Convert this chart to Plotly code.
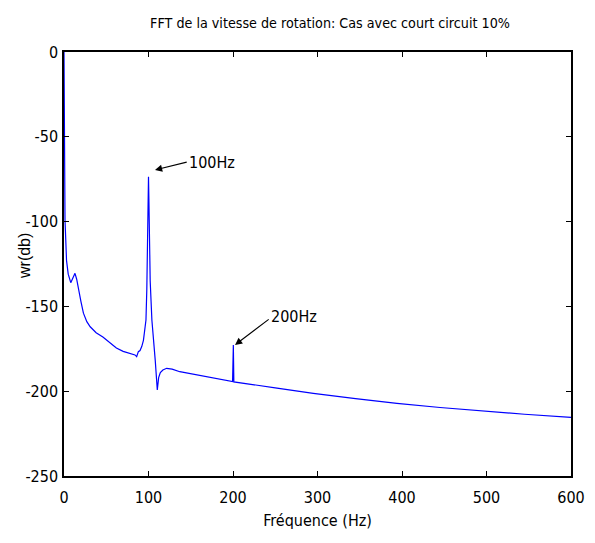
import plotly.graph_objects as go

# Frequency (Hz) and magnitude (dB)
freq = [0, 0.5, 1.2, 3, 5, 8, 11, 13, 15, 17, 20, 23, 27, 31, 38, 46, 54, 62, 70, 78, 84, 86, 88, 90, 92, 94, 95.5, 97, 98, 99, 99.5, 100, 100.5, 101, 102, 104, 106, 108, 110.4, 112, 114, 117, 121.5, 128, 137, 157, 180, 199.5, 200.4, 201, 250, 295, 345, 394, 445, 492, 545, 600]
mag = [0, -60, -99, -123, -131, -136, -133, -130.5, -134, -140, -147, -154, -159, -162, -165.5, -168, -171, -174.5, -176.5, -177.6, -178.6, -179.6, -176.7, -176, -173.7, -170, -164, -158, -140, -110, -88, -73.5, -88, -110, -135, -158, -173, -182, -199.3, -192, -189, -187.5, -186.5, -187, -188.5, -190.4, -192.5, -194.3, -172.7, -194.5, -198, -201.3, -204.4, -207.2, -209.6, -211.5, -213.6, -215.4]

title_text = "FFT de la vitesse de rotation: Cas avec court circuit 10%"
x_label = "Fréquence (Hz)"
y_label = "wr(db)"
x_ticks = [0, 100, 200, 300, 400, 500, 600]
y_ticks = [-250, -200, -150, -100, -50, 0]
y_ticktext = ["-250", "-200", "-150", "-100", "-50", "0"]

cond = "DejaVu Sans Condensed, Liberation Sans, Arial, sans-serif"

fig = go.Figure()
fig.add_trace(go.Scatter(x=freq, y=mag, mode="lines",
                         line=dict(color="#0000ff", width=1.2),
                         showlegend=False))

# arrows + labels
fig.add_annotation(x=107.7, y=-69.6, ax=147, ay=-64.7, axref="x", ayref="y",
                   xref="x", yref="y", text="", showarrow=True,
                   arrowhead=2, arrowsize=1.3, arrowwidth=1.1, arrowcolor="black")
fig.add_annotation(x=146, y=-64.9, xref="x", yref="y", text="100Hz", showarrow=False,
                   xanchor="left", yanchor="middle",
                   font=dict(family=cond, size=16, color="black"))
fig.add_annotation(x=202.4, y=-172.7, ax=244, ay=-157, axref="x", ayref="y",
                   xref="x", yref="y", text="", showarrow=True,
                   arrowhead=2, arrowsize=1.3, arrowwidth=1.1, arrowcolor="black")
fig.add_annotation(x=243, y=-156.2, xref="x", yref="y", text="200Hz", showarrow=False,
                   xanchor="left", yanchor="middle",
                   font=dict(family=cond, size=16, color="black"))
# y-axis label
fig.add_annotation(x=(24 - 64) / 507, y=1 - (256 - 52) / 424, xref="paper", yref="paper",
                   text=y_label, showarrow=False, textangle=-90,
                   xanchor="center", yanchor="middle",
                   font=dict(family="Liberation Sans, Arial, sans-serif", size=16, color="black"))

fig.update_layout(
    width=595, height=543,
    margin=dict(l=64, r=24, t=52, b=67, autoexpand=False),
    paper_bgcolor="white", plot_bgcolor="white",
    title=dict(text=title_text, x=330 / 595, xanchor="center", xref="container",
               y=1 - 23 / 543, yanchor="middle", yref="container",
               font=dict(family=cond, size=14.2, color="black")),
    font=dict(family=cond, size=16, color="black"),
)

fig.update_xaxes(range=[0, 600], tickvals=x_ticks, ticks="inside", ticklen=5,
                 tickwidth=1, tickcolor="black", mirror="ticks", showline=True,
                 linecolor="black", linewidth=1.5, showgrid=False, zeroline=False,
                 automargin=False, ticklabelstandoff=6,
                 title=dict(text=x_label, standoff=9,
                            font=dict(family=cond, size=16, color="black")),
                 tickfont=dict(family=cond, size=16, color="black"))
fig.update_yaxes(range=[-250, 0], tickvals=y_ticks, ticktext=y_ticktext,
                 ticks="inside", ticklen=5,
                 tickwidth=1, tickcolor="black", mirror="ticks", showline=True,
                 linecolor="black", linewidth=1.5, showgrid=False, zeroline=False,
                 automargin=False, ticklabelstandoff=1,
                 tickfont=dict(family=cond, size=16, color="black"))

fig.write_html("out.html")
